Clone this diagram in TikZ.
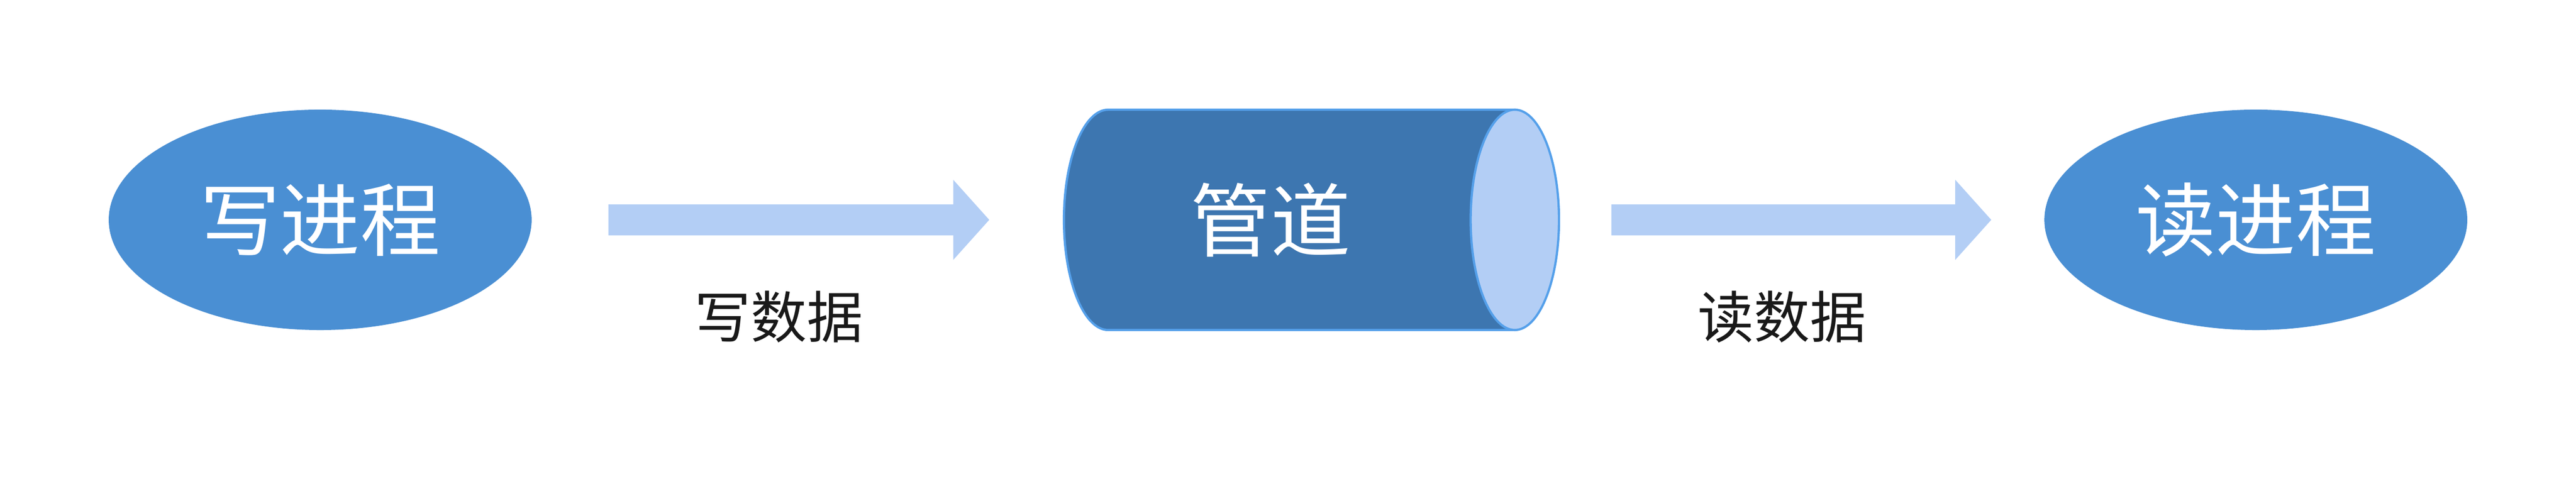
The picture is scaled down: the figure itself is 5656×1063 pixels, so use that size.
\documentclass[tikz,border=0pt]{standalone}
\usepackage{fontspec}
\newfontfamily\cjk{Noto Sans CJK SC}
\usetikzlibrary{shapes.geometric,calc}

\definecolor{procblue}{RGB}{74,143,211}
\definecolor{pipeblue}{RGB}{61,118,176}
\definecolor{pipeedge}{RGB}{85,160,234}
\definecolor{flowblue}{RGB}{179,206,245}

\tikzset{
  proc/.style={ellipse, fill=procblue, minimum width=9.28cm, minimum height=4.84cm,
    inner sep=0pt, text=white, font=\cjk\fontsize{50}{60}\selectfont},
  flowlabel/.style={text=black!90, font=\cjk\fontsize{35}{42}\selectfont},
  pipeline/.style={draw=pipeedge, line width=1.4pt},
}

% fat arrow from #1 to the tip #2
\newcommand{\fatarrow}[2]{%
  \fill[flowblue] ($(#1)+(0,34)$) -- ($(#2)+(-79,34)$) -- ($(#2)+(-79,88)$) -- (#2)
    -- ($(#2)+(-79,-88)$) -- ($(#2)+(-79,-34)$) -- ($(#1)+(0,-34)$) -- cycle;}

\begin{document}
\begin{tikzpicture}[x=0.01cm,y=0.01cm]
    \useasboundingbox (0,0) rectangle (5656,1063);

    \node[proc] (wp) at (703,580)  {写进程};
    \node[proc] (rp) at (4953,580) {读进程};

    % pipe
    \fill[pipeblue, pipeline]
    (3326,822) -- (2433,822)
    arc[start angle=90, end angle=270, x radius=97, y radius=242]
    -- (3326,338) -- cycle;
    \filldraw[fill=flowblue, pipeline] (3326,580) ellipse[x radius=97, y radius=242];
    \node[text=white, font=\cjk\fontsize{50}{60}\selectfont] (pipe) at (2790,580) {管道};

    \coordinate (w1) at ($(wp.east)+(168,0)$);
    \coordinate (w2) at (2172,580);
    \coordinate (r1) at (3538,580);
    \coordinate (r2) at ($(rp.west)+(-116,0)$);
    \fatarrow{w1}{w2}
    \fatarrow{r1}{r2}

    \node[flowlabel] (wdata) at (1710,367) {写数据};
    \node[flowlabel] (rdata) at (3913,367) {读数据};
\end{tikzpicture}
\end{document}
